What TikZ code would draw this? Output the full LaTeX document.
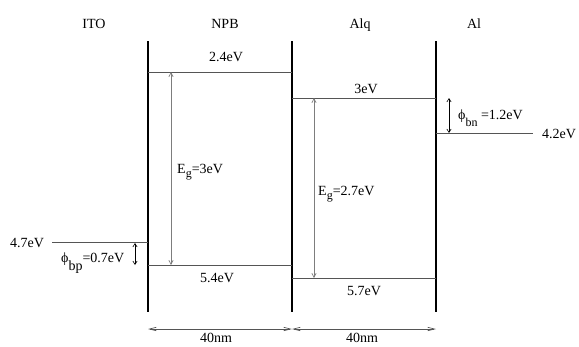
\documentclass[tikz,border=0pt]{standalone}
\usepackage{fontspec}
\setmainfont{Liberation Serif}
\usepackage{tikz}
\usetikzlibrary{arrows.meta,positioning}
\definecolor{bdlevel}{RGB}{85,85,85}
\definecolor{bdgray}{RGB}{125,125,125}
\tikzset{
  bdwall/.style={draw=black, line width=1.1pt},
  bdline/.style={draw=bdlevel, line width=1pt},
  bdgap/.style={{Straight Barb[length=1.4mm, width=1.5mm]}-{Straight Barb[length=1.4mm, width=1.5mm]}, draw=bdgray, line width=.7pt},
  bdbar/.style={{Straight Barb[length=1.2mm, width=1.5mm]}-{Straight Barb[length=1.2mm, width=1.5mm]}, draw=black, line width=.6pt},
  bddim/.style={{Straight Barb[length=2.4mm, width=1.2mm]}-{Straight Barb[length=2.4mm, width=1.2mm]}, draw=bdlevel, line width=.7pt},
  bdtext/.style={inner sep=0pt, anchor=base}
}
\newcommand{\bdsub}[2]{\raisebox{#1}{\fontsize{12}{14}\selectfont #2}}

\begin{document}
\begin{tikzpicture}[x=1pt, y=-1pt, font=\fontsize{14}{16}\selectfont]
  \useasboundingbox (0,0) rectangle (579,346);
  % layer names
  \node[bdtext] (ito) at (94,28) {ITO};
  \node[bdtext] (npb) at (225,28) {NPB};
  \node[bdtext] (alq) at (360,28) {Alq};
  \node[bdtext] (al) at (474,28) {Al};
  % interfaces
  \foreach \n/\x in {a/148,b/292,c/436} {
    \coordinate (wall\n t) at (\x,41);
    \coordinate (wall\n b) at (\x,312);
    \draw[bdwall] (wall\n t) -- (wall\n b);
  }
  % energy levels
  \foreach \n/\xa/\xb/\y in {npblumo/148/292/72,npbhomo/148/292/265,alqlumo/292/436/98,alqhomo/292/436/278,itowf/52/148/242.5,alwf/436/533/133} {
    \coordinate (\n l) at (\xa,\y);
    \coordinate (\n r) at (\xb,\y);
    \draw[bdline] (\n l) -- (\n r);
  }
  \node[bdtext] (npblumolab) at (226,61) {2.4eV};
  \node[bdtext] (npbhomolab) at (217,282) {5.4eV};
  \node[bdtext] (alqlumolab) at (366,93) {3eV};
  \node[bdtext] (alqhomolab) at (364,295) {5.7eV};
  \node[bdtext] (itowflab) at (27,247) {4.7eV};
  \node[bdtext] (alwflab) at (559,138) {4.2eV};
  % band gaps
  \coordinate (npbgapt) at (171,72);
  \coordinate (npbgapb) at (171,265);
  \coordinate (alqgapt) at (314,98);
  \coordinate (alqgapb) at (314,278);
  \draw[bdgap] (npbgapt) -- (npbgapb);
  \draw[bdgap] (alqgapt) -- (alqgapb);
  \node[bdtext, anchor=base west] (npbgaplab) at (177,173) {E\bdsub{-4pt}{g}=3eV};
  \node[bdtext, anchor=base west] (alqgaplab) at (318,195) {E\bdsub{-4pt}{g}=2.7eV};
  % barriers
  \coordinate (bpt) at (135,243);
  \coordinate (bpb) at (135,265);
  \coordinate (bnt) at (449,98);
  \coordinate (bnb) at (449,133);
  \draw[bdbar] (bpt) -- (bpb);
  \draw[bdbar] (bnt) -- (bnb);
  \node[bdtext, anchor=base west] (bplab) at (61,262) {ϕ\raisebox{-8pt}{bp}=0.7eV};
  \node[bdtext, anchor=base west] (bnlab) at (458,119) {ϕ\bdsub{-7pt}{bn} =1.2eV};
  % thicknesses
  \coordinate (dima) at (148,329);
  \coordinate (dimb) at (292,329);
  \coordinate (dimc) at (436,329);
  \draw[bddim] (dima) -- (dimb);
  \draw[bddim] (dimb) -- (dimc);
  \node[bdtext] (npbthick) at (216,342.5) {40nm};
  \node[bdtext] (alqthick) at (362,342.5) {40nm};
\end{tikzpicture}
\end{document}
